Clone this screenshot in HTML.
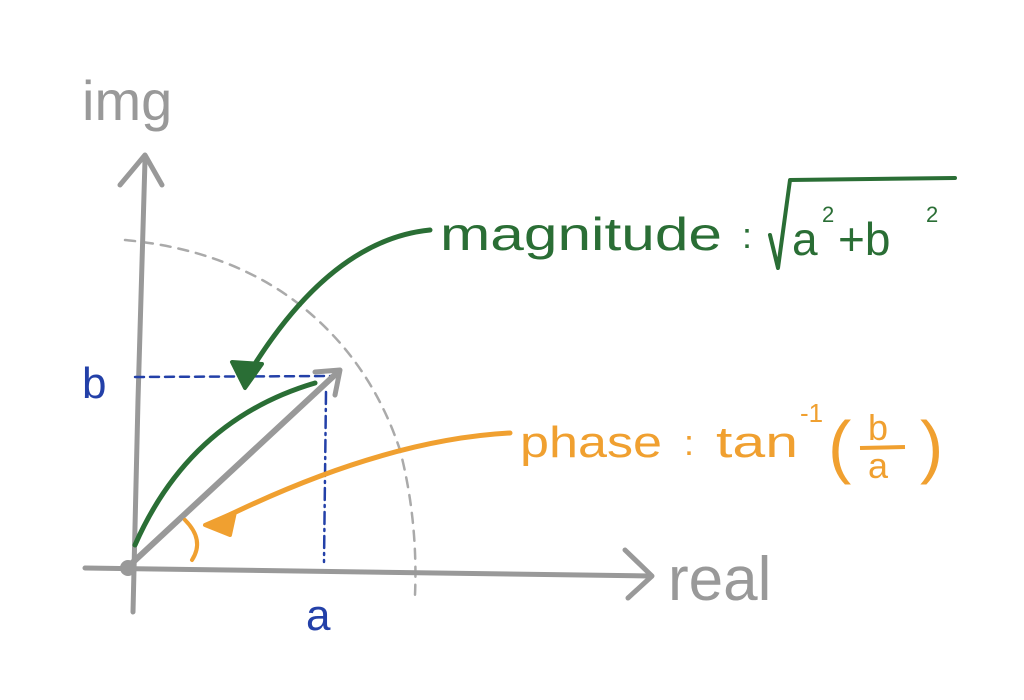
<!DOCTYPE html>
<html><head><meta charset="utf-8"><style>
html,body{margin:0;padding:0;background:#fff;width:1024px;height:700px;overflow:hidden}
text{font-family:"Liberation Sans",sans-serif}
</style></head><body>
<svg width="1024" height="700" viewBox="0 0 1024 700" xmlns="http://www.w3.org/2000/svg">
<g fill="none" stroke-linecap="round" stroke-linejoin="round">
<path d="M125 240 Q230 250 300 305 Q370 360 400 450 Q418 520 415 595" stroke="#aaa" stroke-width="2.5" stroke-dasharray="10 8"/>
<path d="M133 612 L138 400 L145 160" stroke="#999" stroke-width="5"/>
<path d="M120 185 L145 155 L162 185" stroke="#999" stroke-width="5"/>
<path d="M85 568 L650 576" stroke="#999" stroke-width="5"/>
<path d="M625 550 L652 576 L628 598" stroke="#999" stroke-width="5"/>
<path d="M135 377 L332 376" stroke="#2340a8" stroke-width="2.5" stroke-dasharray="9 6"/>
<path d="M326 392 L324 562" stroke="#2340a8" stroke-width="2.5" stroke-dasharray="12 5 2 5"/>
<path d="M135 545 Q190 420 315 383" stroke="#2a6e35" stroke-width="5"/>
<path d="M130 565 L338 372" stroke="#999" stroke-width="6"/>
<path d="M315 372 L340 370 L335 395" stroke="#999" stroke-width="5"/>
<path d="M430 230 Q330 240 248 375" stroke="#2a6e35" stroke-width="5"/>
<path d="M232 362 L262 364 L245 388 Z" stroke="#2a6e35" stroke-width="4" fill="#2a6e35"/>
<path d="M185 520 Q205 540 192 560" stroke="#f0a030" stroke-width="4"/>
<path d="M510 433 Q380 440 215 522" stroke="#f0a030" stroke-width="5"/>
<path d="M205 525 L235 512 L230 535 Z" stroke="#f0a030" stroke-width="4" fill="#f0a030"/>
<path d="M770 235 L778 268 L790 180 L955 178" stroke="#2a6e35" stroke-width="4"/>
</g>
<circle cx="128" cy="568" r="8" fill="#999"/>
<text x="82" y="120" font-size="56" fill="#999">img</text>
<text x="668" y="600" font-size="62" fill="#999">real</text>
<text x="82" y="398" font-size="44" fill="#2340a8">b</text>
<text x="306" y="630" font-size="44" fill="#2340a8">a</text>
<text x="440" y="250" font-size="46" fill="#2a6e35" textLength="282" lengthAdjust="spacingAndGlyphs">magnitude</text>
<text x="742" y="248" font-size="36" fill="#2a6e35">:</text>
<text x="792" y="255" font-size="46" fill="#2a6e35">a</text>
<text x="822" y="222" font-size="22" fill="#2a6e35">2</text>
<text x="838" y="255" font-size="46" fill="#2a6e35">+b</text>
<text x="926" y="222" font-size="22" fill="#2a6e35">2</text>
<text x="520" y="457" font-size="44" fill="#f0a030" textLength="142" lengthAdjust="spacingAndGlyphs">phase</text>
<text x="684" y="455" font-size="36" fill="#f0a030">:</text>
<text x="716" y="457" font-size="44" fill="#f0a030" textLength="82" lengthAdjust="spacingAndGlyphs">tan</text>
<text x="800" y="422" font-size="26" fill="#f0a030">-1</text>
<text x="828" y="470" font-size="70" fill="#f0a030">(</text>
<text x="868" y="440" font-size="36" fill="#f0a030">b</text>
<path d="M860 448 L905 447" stroke="#f0a030" stroke-width="4"/>
<text x="868" y="478" font-size="36" fill="#f0a030">a</text>
<text x="920" y="470" font-size="70" fill="#f0a030">)</text>
</svg>
</body></html>
